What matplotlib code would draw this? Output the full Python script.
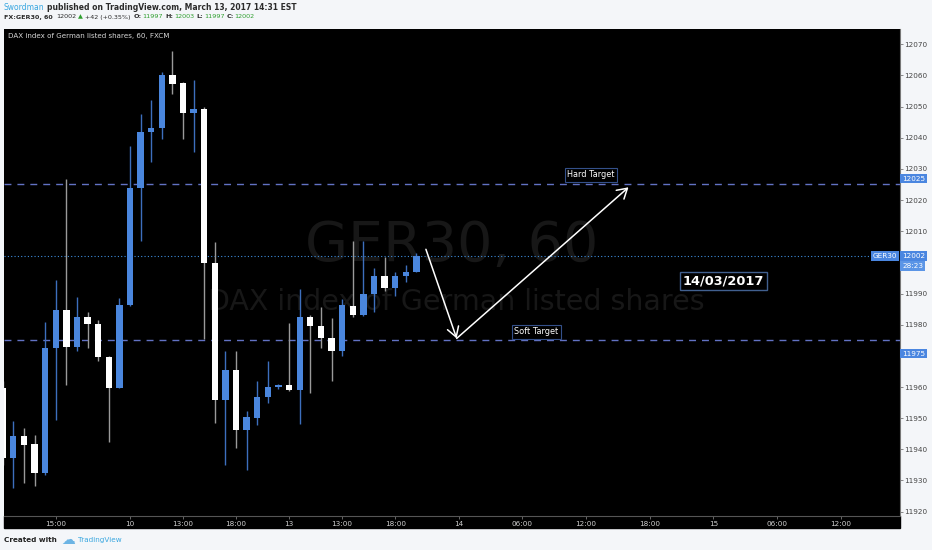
import numpy as np
import matplotlib.pyplot as plt
from matplotlib.patches import Rectangle

W, H = 932, 550

# FX:GER30, 60 min bars
opens = [11959.6, 11937.2, 11944.2, 11941.7, 11932.4, 11972.6, 11984.8, 11973.0,
         11982.5, 11980.3, 11969.5, 11959.6, 11986.4, 12024.0, 12041.9, 12043.2,
         12060.1, 12057.5, 12048.0, 12049.3, 11999.8, 11955.7, 11965.6, 11946.2,
         11950.0, 11956.7, 11959.9, 11960.5, 11959.0, 11982.5, 11979.7, 11975.8,
         11971.7, 11986.1, 11983.2, 11989.9, 11995.6, 11991.8, 11995.6, 11997.0]
highs = [11962.0, 11949.0, 11946.8, 11944.6, 11980.9, 11994.3, 12026.9, 11988.9,
         11984.1, 11981.6, 11970.1, 11988.6, 12037.4, 12047.7, 12052.1, 12061.1,
         12067.8, 12057.8, 12058.5, 12049.9, 12006.5, 11971.7, 11971.7, 11952.2,
         11961.8, 11968.5, 11961.0, 11980.6, 11991.5, 11983.2, 11985.7, 11982.2,
         11988.3, 12006.8, 12006.8, 11998.2, 12001.7, 11996.9, 11999.1, 12003.0]
lows = [11935.0, 11927.6, 11929.2, 11928.3, 11931.8, 11949.3, 11960.5, 11971.4,
        11972.6, 11968.2, 11942.3, 11959.6, 11986.1, 12006.8, 12032.3, 12039.7,
        12054.0, 12039.7, 12035.5, 11975.5, 11948.4, 11935.0, 11940.4, 11933.4,
        11947.7, 11954.8, 11959.5, 11958.6, 11948.1, 11958.0, 11972.6, 11961.8,
        11970.1, 11982.5, 11982.9, 11984.1, 11990.8, 11989.2, 11993.7, 11997.0]
closes = [11937.2, 11944.2, 11941.4, 11932.4, 11972.6, 11984.8, 11973.0, 11982.5,
          11980.3, 11969.5, 11959.6, 11986.4, 12024.0, 12041.9, 12043.2, 12060.1,
          12057.2, 12048.0, 12049.3, 11999.8, 11955.7, 11965.6, 11946.2, 11950.3,
          11956.7, 11959.9, 11960.5, 11958.9, 11982.5, 11979.7, 11975.8, 11971.7,
          11986.4, 11983.2, 11989.9, 11995.6, 11991.8, 11995.6, 11996.9, 12002.0]

tick_pos = [5, 12, 17, 22, 27, 32, 37, 43, 49, 55, 61, 67, 73, 79]
tick_lab = ['15:00', '10', '13:00', '18:00', '13', '13:00', '18:00',
            '14', '06:00', '12:00', '18:00', '15', '06:00', '12:00']
price_ticks = [11920, 11930, 11940, 11950, 11960, 11980, 11990,
               12010, 12020, 12030, 12040, 12050, 12060, 12070]

hard_target = 12025
soft_target = 11975
last_price = 12002
countdown = '28:23'

# hand drawn arrows: (bar index, price)
leg_down = [(39.9, 12004.2), (42.8, 11975.6)]
leg_up = [(42.8, 11975.6), (59.0, 12024.1)]


def fx(px):
    return px / W


def fy(py):
    return 1 - py / H


fig = plt.figure(figsize=(W / 100, H / 100), dpi=100, facecolor='#f4f6f9')
ax = fig.add_axes([fx(3.5), fy(515.7), fx(899.5) - fx(3.5), fy(29) - fy(515.7)])
ax.set_facecolor('black')
fig.patches.append(Rectangle((fx(3.5), fy(528)), fx(900) - fx(3.5), fy(515.7) - fy(528),
                             transform=fig.transFigure, color='black', zorder=-1))

# watermark
ax.text(0.5, 0.554, 'GER30, 60', transform=ax.transAxes, ha='center', va='center',
        fontsize=40, color='#171717', zorder=0)
ax.text(0.505, 0.439, 'DAX index of German listed shares', transform=ax.transAxes,
        ha='center', va='center', fontsize=20.5, color='#171717', zorder=0)

# candles
o, h, l, c = map(np.array, (opens, highs, lows, closes))
x = np.arange(len(o))
up = c >= o
blue = '#4a86dd'
ax.vlines(x, l, h, colors=np.where(up, '#3d6fbd', '#9a9a9a'), lw=1, zorder=2)
ax.bar(x, np.maximum(np.abs(c - o), 0.35), bottom=np.minimum(o, c), width=0.6,
       color=np.where(up, blue, 'white'), linewidth=0, zorder=3)

# levels
ax.axhline(hard_target, color='#6272c4', lw=1, ls=(0, (5, 4.3)), zorder=1)
ax.axhline(soft_target, color='#6272c4', lw=1, ls=(0, (5, 4.3)), zorder=1)
ax.axhline(last_price, color='#3f8fe0', lw=0.8, ls=(0, (1, 2)), zorder=1)

for a, b in (leg_down, leg_up):
    ax.annotate('', xy=b, xytext=a,
                arrowprops=dict(arrowstyle='->,head_length=0.5,head_width=0.3',
                                color='white', lw=1.1,
                                shrinkA=0, shrinkB=0, mutation_scale=14), zorder=5)

box = dict(boxstyle='square,pad=0.3', fc='black', ec='#34508a', lw=0.8)
ax.text(55.45, 12028.1, 'Hard Target', ha='center', va='center', color='white',
        fontsize=5.9, bbox=box, zorder=6)
ax.text(50.3, 11977.7, 'Soft Target', ha='center', va='center', color='white',
        fontsize=5.9, bbox=box, zorder=6)
ax.text(67.95, 11994.0, '14/03/2017', ha='center', va='center', color='white',
        fontsize=9.3, fontweight='bold', zorder=6,
        bbox=dict(boxstyle='square,pad=0.2', fc='black', ec='#41608f', lw=1))

ax.set_xlim(0.075, 84.55)
ax.set_ylim(11918.7, 12074.9)
ax.set_xticks(tick_pos)
ax.set_xticklabels(tick_lab)
ax.yaxis.tick_right()
ax.set_yticks(price_ticks)
ax.tick_params(axis='y', colors='#777', labelcolor='#444', labelsize=5.2,
               length=2, width=0.6, pad=1.2)
ax.tick_params(axis='x', colors='#777', labelcolor='#cfcfcf', labelsize=5.2,
               length=2, width=0.6, pad=2)
for s in ('top', 'left'):
    ax.spines[s].set_visible(False)
ax.spines['right'].set_color('#777')
ax.spines['bottom'].set_color('#555')
ax.spines['right'].set_linewidth(0.8)
ax.spines['bottom'].set_linewidth(0.8)


def price_tag(price, text, dy, fc, xpx=902, ha='left'):
    ax.annotate(text, xy=(fx(xpx), price), xycoords=('figure fraction', 'data'),
                xytext=(0, dy), textcoords='offset pixels', ha=ha, va='center',
                fontsize=5.2, color='white', annotation_clip=False, zorder=7,
                bbox=dict(boxstyle='square,pad=0.25', fc=fc, ec='none'))


price_tag(hard_target, '12025', 5.8, '#4a86e0')
price_tag(last_price, '12002', 0, '#4a86e0')
price_tag(last_price, countdown, -10, '#5b95e6')
price_tag(soft_target, '11975', -13.3, '#4a86e0')
price_tag(last_price, 'GER30', 0, '#4a86e0', xpx=897, ha='right')

# header / footer text runs
renderer = fig.canvas.get_renderer()


def text_run(px, py, parts, size, weight='bold'):
    xx = px
    for part in parts:
        s, col, gap, wt = part[:4]
        fs = part[4] if len(part) > 4 else size
        t = fig.text(fx(xx), fy(py), s, color=col, va='center', ha='left',
                     fontsize=fs, fontweight=wt or weight)
        xx = t.get_window_extent(renderer).x1 + gap


dark = '#2b2b2b'
green = '#2e9e2e'
tvblue = '#3aa7e0'
text_run(3.5, 7, [('Swordman', tvblue, 3, 'normal'),
                  ('published on TradingView.com, March 13, 2017 14:31 EST', dark, 0, None)],
         5.5)
text_run(3.5, 17, [('FX:GER30, 60', dark, 4, None), ('12002', dark, 2, 'normal'),
                   ('\u25b2', green, 2, 'normal'), ('+42 (+0.35%)', dark, 3, 'normal'),
                   ('O:', dark, 0.5, None), ('11997', green, 2.5, 'normal'),
                   ('H:', dark, 0.5, None), ('12003', green, 2.5, 'normal'),
                   ('L:', dark, 0.5, None), ('11997', green, 2.5, 'normal'),
                   ('C:', dark, 0.5, None), ('12002', green, 0, 'normal')], 4.6)
fig.text(fx(8), fy(36), 'DAX index of German listed shares, 60, FXCM', color='#d8d8d8',
         va='center', ha='left', fontsize=5.1)
text_run(3.5, 540, [('Created with', '#222222', 5, None),
                    ('\u2601', '#6cb4e4', 3, 'normal', 10),
                    ('TradingView', tvblue, 0, 'normal')], 5.2)

fig.savefig('out.png', dpi=100, facecolor=fig.get_facecolor())
